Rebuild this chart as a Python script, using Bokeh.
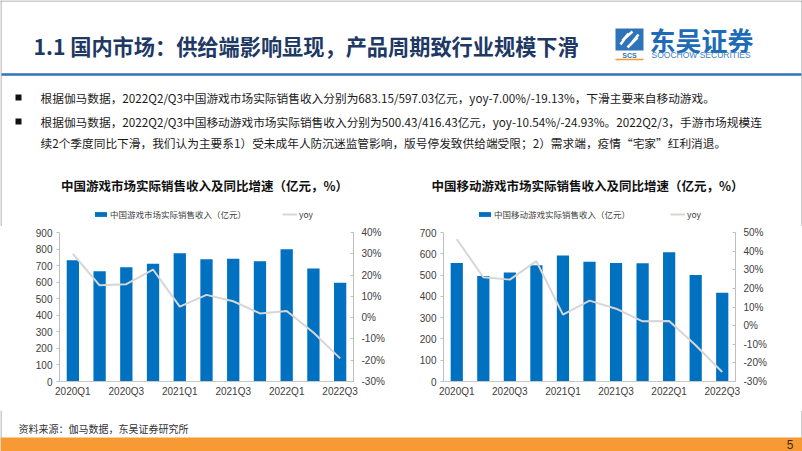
from bokeh.plotting import figure
from bokeh.layouts import column, row
from bokeh.models import (Range1d, LinearAxis, FixedTicker, PrintfTickFormatter,
                          Legend, LegendItem, ColumnDataSource)
from bokeh.core.properties import value
from bokeh.embed import file_html
from bokeh.resources import INLINE

# ---------------- data ----------------
quarters = ["2020Q1", "2020Q2", "2020Q3", "2020Q4", "2021Q1", "2021Q2",
            "2021Q3", "2021Q4", "2022Q1", "2022Q2", "2022Q3"]
game_revenue = [732.03, 666.0, 690.0, 711.0, 775.0, 738.0, 742.0, 726.0, 799.0, 683.15, 597.03]
game_yoy = [30.0, 15.2, 15.7, 22.6, 5.2, 10.7, 7.7, 2.0, 3.1, -7.00, -19.13]
mobile_revenue = [557.0, 496.0, 512.0, 546.0, 592.0, 563.0, 557.0, 556.0, 607.0, 500.43, 416.43]
mobile_yoy = [46.4, 26.0, 24.7, 34.6, 5.9, 13.4, 9.1, 2.3, 2.5, -10.54, -24.93]
shown_ticks = [0, 2, 4, 6, 8, 10]

chart1_title = "中国游戏市场实际销售收入及同比增速（亿元，%）"
chart1_bar_label = "中国游戏市场实际销售收入（亿元）"
chart2_title = "中国移动游戏市场实际销售收入及同比增速（亿元，%）"
chart2_bar_label = "中国移动游戏实际销售收入（亿元）"
line_label = "yoy"

CJK = "Noto Sans CJK SC"
LAT = "Liberation Sans"
BAR_COLOR = "#0070C0"
LINE_COLOR = "#D6D6D6"

header_title = "1.1 国内市场：供给端影响显现，产品周期致行业规模下滑"
bullets = [
    "根据伽马数据，2022Q2/Q3中国游戏市场实际销售收入分别为683.15/597.03亿元，yoy-7.00%/-19.13%，下滑主要来自移动游戏。",
    "根据伽马数据，2022Q2/Q3中国移动游戏市场实际销售收入分别为500.43/416.43亿元，yoy-10.54%/-24.93%。2022Q2/3，手游市场规模连",
    "续2个季度同比下滑，我们认为主要系1）受未成年人防沉迷监管影响，版号停发致供给端受限；2）需求端，疫情“宅家”红利消退。",
]
source_text = "资料来源：伽马数据，东吴证券研究所"


def blank(fig):
    fig.axis.visible = False
    fig.grid.visible = False
    fig.outline_line_color = None
    fig.background_fill_color = "white"
    fig.border_fill_color = "white"


# ---------------- header (incl. chart titles & legends) ----------------
H = figure(width=802, height=226, x_range=Range1d(0, 802), y_range=Range1d(226, 0),
           output_backend="svg", toolbar_location=None, min_border=0)
blank(H)
H.segment(x0=[0.5, 801.5, 0], y0=[0, 0, 0.5], x1=[0.5, 801.5, 802], y1=[226, 226, 0.5],
          line_color="#9A9A9A", line_width=1)
H.text(x=[33], y=[45], text=[header_title], text_font=value(CJK), text_font_size="21.2px",
       text_font_style="bold", text_color="#203864", text_baseline="middle")
H.segment(x0=[1], y0=[74], x1=[801], y1=[74], line_color="#2E75B6", line_width=2.5)
# logo
H.quad(left=[615], right=[643], top=[28], bottom=[50], fill_color="#2F73B9", line_color=None)
H.multi_line(xs=[[620, 628, 622, 632], [627, 637, 630, 638]], ys=[[44, 33, 40, 31], [47, 37, 44, 34]],
             line_color="white", line_width=2.5)
H.text(x=[629], y=[54.5], text=["SCS"], text_font=value(LAT), text_font_size="7px",
       text_font_style="bold", text_color="#2F73B9", text_align="center", text_baseline="middle")
H.segment(x0=[615], y0=[59], x1=[643], y1=[59], line_color="#F39A2E", line_width=1.5)
H.text(x=[649], y=[39], text=["东吴证券"], text_font=value(CJK), text_font_size="26px",
       text_font_style="bold", text_color="#1E6BB8", text_baseline="middle")
H.text(x=[651], y=[54], text=["SOOCHOW SECURITIES"], text_font=value(LAT), text_font_size="8.5px",
       text_color="#3C7EC4", text_baseline="middle")
# bullets
H.rect(x=[18, 18], y=[97, 121], width=6, height=6, fill_color="#111111", line_color=None)
H.text(x=[40, 40, 40], y=[97, 121, 142], text=bullets, text_font=value(CJK), text_font_size="11.7px",
       text_color="#1a1a1a", text_baseline="middle")
# chart titles
H.text(x=[204, 587], y=[185, 185], text=[chart1_title, chart2_title], text_font=value(CJK),
       text_font_size="12.5px", text_font_style="bold", text_color="#111111",
       text_align="center", text_baseline="middle")

# legend proxies (off-screen, styled like the chart marks)
bar_proxy = H.vbar(x=[-500], top=[1], width=1, fill_color=BAR_COLOR, line_color=None)
line_proxy = H.line(x=[-500, -499], y=[1, 1], line_color=LINE_COLOR, line_width=2)


def add_legend(bar_label, loc, spacing):
    lg = Legend(items=[LegendItem(label=bar_label, renderers=[bar_proxy]),
                       LegendItem(label=line_label, renderers=[line_proxy])],
                orientation="horizontal", location=loc)
    lg.label_text_font = CJK
    lg.label_text_font_size = "8.5px"
    lg.label_text_color = "#404040"
    lg.glyph_width = 15
    lg.glyph_height = 6
    lg.label_height = 12
    lg.label_standoff = 2
    lg.spacing = spacing
    lg.padding = 0
    lg.margin = 0
    lg.background_fill_alpha = 0
    lg.border_line_alpha = 0
    H.add_layout(lg, "center")


add_legend(chart1_bar_label, (93, 6), 36)
add_legend(chart2_bar_label, (477, 6), 40)


# ---------------- charts ----------------
def make_chart(revenue, yoy, ymax, yoy_lo, yoy_hi, bl, br):
    p = figure(width=401, height=184, x_range=Range1d(-0.5, 10.5), y_range=Range1d(0, ymax),
               output_backend="svg", toolbar_location=None,
               min_border_left=bl, min_border_right=br, min_border_top=6, min_border_bottom=29)
    p.outline_line_color = None
    p.grid.visible = False
    p.extra_y_ranges = {"yoy": Range1d(yoy_lo, yoy_hi)}

    src = ColumnDataSource(dict(x=list(range(len(quarters))), rev=revenue, yoy=yoy))
    p.vbar(x="x", top="rev", width=0.46, source=src, fill_color=BAR_COLOR, line_color=None)
    p.line(x="x", y="yoy", source=src, y_range_name="yoy", line_color=LINE_COLOR, line_width=2)

    xa = p.xaxis[0]
    xa.ticker = FixedTicker(ticks=shown_ticks)
    xa.major_label_overrides = {i: quarters[i] for i in shown_ticks}
    xa.major_tick_in = 0
    xa.major_tick_out = 0
    xa.minor_tick_line_color = None
    xa.axis_line_color = "#C8C8C8"
    xa.major_label_standoff = 4

    ya = p.yaxis[0]
    ya.ticker = FixedTicker(ticks=list(range(0, ymax + 1, 100)))
    ya.major_tick_in = 0
    ya.major_tick_out = 3
    ya.minor_tick_line_color = None
    ya.axis_line_color = "#BFBFBF"
    ya.major_tick_line_color = "#BFBFBF"
    ya.major_label_standoff = 4

    ra = LinearAxis(y_range_name="yoy", ticker=FixedTicker(ticks=list(range(yoy_lo, yoy_hi + 1, 10))),
                    formatter=PrintfTickFormatter(format="%d%%"))
    ra.major_tick_in = 3
    ra.major_tick_out = 0
    ra.minor_tick_line_color = None
    ra.axis_line_color = "#BFBFBF"
    ra.major_tick_line_color = "#BFBFBF"
    ra.major_label_standoff = 8
    p.add_layout(ra, "right")

    for ax in (xa, ya, ra):
        ax.major_label_text_font = LAT
        ax.major_label_text_font_size = "10px"
        ax.major_label_text_color = "#404040"
    return p


c1 = make_chart(game_revenue, game_yoy, 900, -30, 40, 59, 48)
c2 = make_chart(mobile_revenue, mobile_yoy, 700, -30, 50, 42, 67)

# ---------------- footer ----------------
F = figure(width=802, height=41, x_range=Range1d(0, 802), y_range=Range1d(451, 410),
           output_backend="svg", toolbar_location=None, min_border=0)
blank(F)
F.segment(x0=[0.5, 801.5], y0=[410, 410], x1=[0.5, 801.5], y1=[451, 451],
          line_color="#9A9A9A", line_width=1)
F.text(x=[18], y=[428], text=[source_text], text_font=value(CJK), text_font_size="10px",
       text_color="#333333", text_baseline="middle")
F.quad(left=[0], right=[802], top=[437], bottom=[451], fill_color="#F79A34", line_color=None)
F.text(x=[793], y=[444], text=["5"], text_font=value(LAT), text_font_size="12px",
       text_color="#3A2A10", text_align="right", text_baseline="middle")

layout = column(H, row(c1, c2, spacing=0), F, spacing=0)
open("out.html", "w").write(file_html(layout, INLINE))
